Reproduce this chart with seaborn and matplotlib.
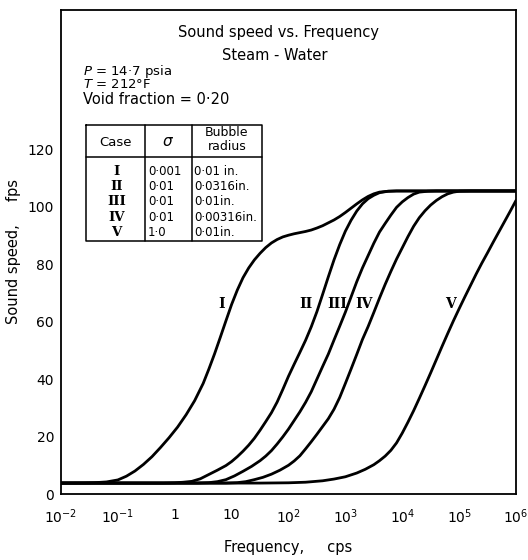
import numpy as np
import pandas as pd
import matplotlib
matplotlib.use("Agg")
import matplotlib.pyplot as plt
import seaborn as sns

# ---- data (log10 of frequency in cps, sound speed in fps) ----
case_names = ["I", "II", "III", "IV", "V"]

case1_log10_freq = [-2.0, -1.6, -1.4, -1.2, -1.0, -0.85, -0.7, -0.55, -0.4, -0.25, -0.1, 0.05,
                    0.2, 0.35, 0.5, 0.6, 0.7, 0.8, 0.9, 1.0, 1.1, 1.2, 1.3, 1.4, 1.5, 1.6,
                    1.7, 1.8, 1.9, 2.0, 2.1, 2.2, 2.3, 2.4, 2.5, 2.6, 2.7, 2.8, 2.9, 3.0,
                    3.1, 3.2, 3.3, 3.4, 3.5, 3.6, 3.75, 3.9, 6.0]
case1_speed = [3.8, 3.85, 3.95, 4.2, 4.9, 6.2, 8.0, 10.3, 13.0, 16.2, 19.6, 23.3,
               27.6, 32.5, 38.5, 43.5, 48.8, 54.5, 60.3, 66.0, 71.0, 75.3, 78.7, 81.5, 83.8, 85.8,
               87.4, 88.6, 89.5, 90.1, 90.6, 91.0, 91.4, 91.9, 92.6, 93.4, 94.4, 95.4, 96.6, 98.0,
               99.5, 101.0, 102.4, 103.6, 104.5, 105.1, 105.4, 105.5, 105.5]

case2_log10_freq = [-2.0, -0.2, 0.0, 0.15, 0.3, 0.45, 0.6, 0.75, 0.9, 1.0, 1.1, 1.2, 1.3,
                    1.4, 1.5, 1.6, 1.7, 1.8, 1.9, 2.0, 2.1, 2.2, 2.3, 2.4, 2.5, 2.6, 2.7,
                    2.8, 2.9, 3.0, 3.1, 3.2, 3.3, 3.4, 3.5, 3.6, 3.75, 3.9, 6.0]
case2_speed = [3.8, 3.8, 3.9, 4.1, 4.4, 5.3, 6.8, 8.3, 9.9, 11.3, 13.0, 14.9, 17.0,
               19.4, 22.2, 25.2, 28.3, 32.0, 36.4, 41.0, 45.2, 49.3, 53.5, 58.2, 63.5, 69.5, 75.6,
               81.5, 86.8, 91.5, 95.3, 98.5, 101.0, 102.8, 104.0, 104.9, 105.4, 105.5, 105.5]

case3_log10_freq = [-2.0, 0.4, 0.6, 0.75, 0.9, 1.05, 1.2, 1.35, 1.5, 1.6, 1.7, 1.8, 1.9,
                    2.0, 2.1, 2.2, 2.3, 2.4, 2.5, 2.6, 2.7, 2.8, 2.9, 3.0, 3.1, 3.2, 3.3,
                    3.4, 3.5, 3.6, 3.7, 3.8, 3.9, 4.0, 4.1, 4.2, 4.3, 4.45, 4.6, 6.0]
case3_speed = [3.8, 3.8, 3.95, 4.3, 5.0, 6.3, 7.9, 9.6, 11.6, 13.2, 15.1, 17.4, 19.9,
               22.6, 25.6, 28.6, 31.9, 35.6, 40.0, 44.4, 48.7, 53.6, 58.4, 63.3, 68.6, 73.9, 78.7,
               83.0, 87.3, 91.2, 94.2, 97.1, 99.8, 101.7, 103.2, 104.4, 105.1, 105.4, 105.5, 105.5]

case4_log10_freq = [-2.0, 0.9, 1.1, 1.25, 1.4, 1.55, 1.7, 1.85, 2.0, 2.1, 2.2, 2.3, 2.4,
                    2.5, 2.6, 2.7, 2.8, 2.9, 3.0, 3.1, 3.2, 3.3, 3.4, 3.5, 3.6, 3.7, 3.8,
                    3.9, 4.0, 4.1, 4.2, 4.3, 4.4, 4.5, 4.6, 4.7, 4.8, 4.9, 5.0, 5.2, 6.0]
case4_speed = [3.8, 3.8, 3.95, 4.3, 5.0, 5.8, 6.9, 8.3, 10.0, 11.5, 13.3, 15.7, 18.2,
               20.8, 23.5, 26.2, 29.5, 33.6, 38.5, 43.5, 48.6, 53.8, 58.3, 63.2, 68.2, 73.0, 77.5,
               81.8, 85.7, 89.6, 93.2, 96.2, 98.6, 100.6, 102.2, 103.5, 104.5, 105.1, 105.4, 105.5, 105.5]

case5_log10_freq = [-2.0, 1.5, 2.0, 2.3, 2.6, 2.8, 3.0, 3.2, 3.35, 3.5, 3.6, 3.7, 3.8,
                    3.9, 4.0, 4.1, 4.2, 4.3, 4.4, 4.5, 4.6, 4.7, 4.8, 4.9, 5.0, 5.1, 5.2,
                    5.3, 5.4, 5.5, 5.6, 5.7, 5.8, 5.9, 6.0]
case5_speed = [3.8, 3.8, 3.9, 4.1, 4.6, 5.2, 6.0, 7.3, 8.6, 10.2, 11.6, 13.2, 15.2,
               17.8, 21.2, 25.0, 29.0, 33.3, 37.7, 42.2, 46.8, 51.4, 55.9, 60.3, 64.5, 68.6, 72.6,
               76.6, 80.4, 84.0, 87.7, 91.3, 94.9, 98.5, 102.2]

label_log10_freq = [0.82, 2.31, 2.85, 3.33, 4.84]
label_speed = 66

table_sigma = ["0·001", "0·01", "0·01", "0·01", "1·0"]
table_radius = ["0·01 in.", "0·0316in.", "0·01in.", "0·00316in.", "0·01in."]

x_tick_exponents = [-2, -1, 0, 1, 2, 3, 4, 5, 6]
x_tick_labels = [r"$10^{-2}$", r"$10^{-1}$", "1", "10", r"$10^{2}$", r"$10^{3}$",
                 r"$10^{4}$", r"$10^{5}$", r"$10^{6}$"]
y_ticks = [0, 20, 40, 60, 80, 100, 120]

# ---- build long-form table ----
all_x = [case1_log10_freq, case2_log10_freq, case3_log10_freq, case4_log10_freq, case5_log10_freq]
all_y = [case1_speed, case2_speed, case3_speed, case4_speed, case5_speed]
frames = []
for name, xs, ys in zip(case_names, all_x, all_y):
    frames.append(pd.DataFrame({"freq": np.power(10.0, xs), "speed": ys, "case": name}))
df = pd.concat(frames, ignore_index=True)

sns.set_style("white")
plt.rcParams["font.family"] = ["DejaVu Sans"]
plt.rcParams["mathtext.fontset"] = "dejavusans"
plt.rcParams["text.color"] = "black"
plt.rcParams["axes.labelcolor"] = "black"

fig = plt.figure(figsize=(5.28, 5.60), dpi=100)
ax = fig.add_axes([61 / 528, 1 - 494 / 560, 455 / 528, 484 / 560])

sns.lineplot(data=df, x="freq", y="speed", hue="case", palette=["black"] * 5,
             estimator=None, sort=False, legend=False, linewidth=2.0, ax=ax)
for ln in ax.get_lines():
    ln.set_solid_joinstyle("round")
    ln.set_solid_capstyle("round")

ax.set_xscale("log")
ax.set_xlim(1e-2, 1e6)
ax.set_ylim(0, 168.5)
ax.set_xticks([10.0 ** e for e in x_tick_exponents])
ax.set_xticklabels(x_tick_labels)
ax.xaxis.set_minor_locator(matplotlib.ticker.NullLocator())
ax.set_yticks(y_ticks)
ax.set_yticklabels([str(v) for v in y_ticks])
ax.tick_params(axis="both", direction="in", length=7, width=1.0, labelsize=10,
               color="black", labelcolor="black")
ax.tick_params(axis="x", pad=10)
ax.tick_params(axis="y", pad=5)
for s in ax.spines.values():
    s.set_color("black")
    s.set_linewidth(1.3)

ax.set_xlabel("Frequency,     cps", fontsize=10.5, labelpad=10, color="black")
ax.set_ylabel("Sound speed,     fps", fontsize=10.5, labelpad=5, color="black")

# curve labels
for name, lx in zip(case_names, label_log10_freq):
    ax.text(10.0 ** lx, label_speed, name, ha="center", va="center", fontsize=10,
            family="DejaVu Serif", fontweight="bold", color="black")

# header texts
T = ax.transAxes
def fx(px):
    return (px - 61) / 455
def fy(py):
    return (494 - py) / 484

ax.text(fx(278), fy(33), "Sound speed vs. Frequency", transform=T, ha="center", va="center", fontsize=10.5)
ax.text(fx(275), fy(55), "Steam - Water", transform=T, ha="center", va="center", fontsize=10.5)
ax.text(fx(83), fy(71), r"$P$ = 14·7 psia", transform=T, ha="left", va="center", fontsize=9.5)
ax.text(fx(83), fy(84.5), r"$T$ = 212°F", transform=T, ha="left", va="center", fontsize=9.5)
ax.text(fx(83), fy(100), "Void fraction = 0·20", transform=T, ha="left", va="center", fontsize=10.5)

# table
tl, tr, tt, tb = fx(86), fx(262), fy(125), fy(241)
hsep = fy(157)
c1, c2 = fx(145), fx(192)
lw = 1.1
ax.plot([tl, tr, tr, tl, tl], [tt, tt, tb, tb, tt], transform=T, color="black", lw=lw, clip_on=False)
ax.plot([tl, tr], [hsep, hsep], transform=T, color="black", lw=lw)
ax.plot([c1, c1], [tt, tb], transform=T, color="black", lw=lw)
ax.plot([c2, c2], [tt, tb], transform=T, color="black", lw=lw)

ax.text(fx(115), fy(142), "Case", transform=T, ha="center", va="center", fontsize=9.5)
ax.text(fx(168), fy(142), r"$\sigma$", transform=T, ha="center", va="center", fontsize=11)
ax.text(fx(227), fy(132), "Bubble", transform=T, ha="center", va="center", fontsize=9)
ax.text(fx(227), fy(147), "radius", transform=T, ha="center", va="center", fontsize=9)

row_py = [171.7, 186.7, 201.7, 217.5, 232.5]
for name, sg, rad, py in zip(case_names, table_sigma, table_radius, row_py):
    ax.text(fx(116.7), fy(py), name, transform=T, ha="center", va="center", fontsize=9.5,
            family="DejaVu Serif", fontweight="bold")
    ax.text(fx(148), fy(py), sg, transform=T, ha="left", va="center", fontsize=8.5)
    ax.text(fx(194), fy(py), rad, transform=T, ha="left", va="center", fontsize=8.5)

fig.savefig("out.png", dpi=100, facecolor="white")
